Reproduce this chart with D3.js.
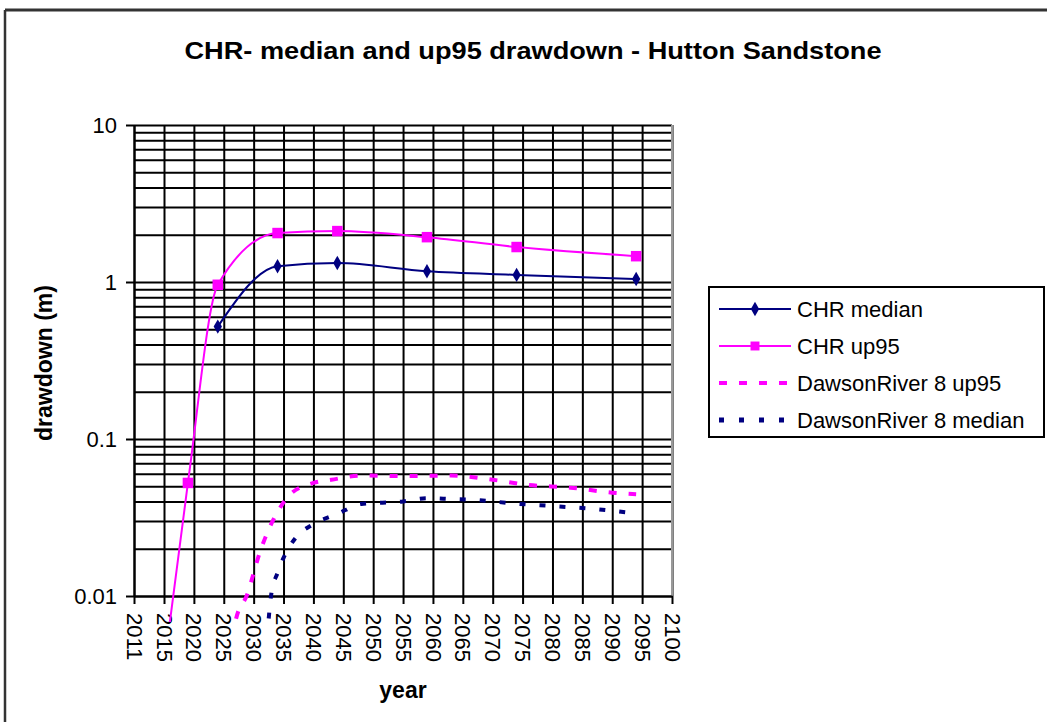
<!DOCTYPE html>
<html>
<head>
<meta charset="utf-8">
<script src="https://cdn.jsdelivr.net/npm/d3@7"></script>
<style>
  body { margin: 0; background: #fff; }
  text { font-family: Arial, "Liberation Sans", sans-serif; fill: #000; }
</style>
</head>
<body>
<svg id="chart" width="1047" height="722"></svg>
<script>
// tick labels on the year axis (evenly spaced in the original)
var yearTicks = [2011, 2015, 2020, 2025, 2030, 2035, 2040, 2045, 2050, 2055,
                 2060, 2065, 2070, 2075, 2080, 2085, 2090, 2095, 2100];
var drawdownTicks = [0.01, 0.1, 1, 10];

// CHR series
var chrMedianYears = [2024, 2034, 2044, 2059, 2074, 2094];
var chrMedian      = [0.52, 1.26, 1.32, 1.17, 1.11, 1.045];
var chrUp95Years   = [2014, 2019, 2024, 2034, 2044, 2059, 2074, 2094];
var chrUp95        = [0.0015, 0.0525, 0.96, 2.05, 2.11, 1.93, 1.67, 1.46];

// DawsonRiver 8 series
var drUp95Years = [2026, 2027, 2029, 2030, 2031, 2032, 2034, 2036, 2040, 2043, 2048, 2055, 2063, 2070, 2076, 2083, 2090, 2094];
var drUp95      = [0.004, 0.007, 0.0104, 0.014, 0.0188, 0.0238, 0.0343, 0.044, 0.0525, 0.055, 0.0585, 0.058, 0.0585, 0.055, 0.051, 0.049, 0.0455, 0.0445];
var drMedianYears = [2032, 2033, 2034, 2035, 2037, 2040, 2044, 2048, 2055, 2059, 2063, 2067, 2073, 2080, 2087, 2094];
var drMedian      = [0.004, 0.0106, 0.014, 0.0175, 0.0234, 0.0287, 0.0333, 0.0386, 0.040, 0.042, 0.0415, 0.041, 0.039, 0.0374, 0.0358, 0.0335];

var seriesNames = ["CHR median", "CHR up95", "DawsonRiver 8 up95", "DawsonRiver 8 median"];

var navy = "#000080";
var magenta = "#FF00FF";

var plotLeft = 134, plotRight = 672, plotTop = 125, plotBottom = 596;

var svg = d3.select("#chart");

// outer chart frame (only left and top edges are visible)
svg.append("line").attr("x1", 5).attr("x2", 5).attr("y1", 10).attr("y2", 722)
    .attr("stroke", "#333").attr("stroke-width", 2.5);
svg.append("line").attr("x1", 5).attr("x2", 1047).attr("y1", 10).attr("y2", 10)
    .attr("stroke", "#333").attr("stroke-width", 3);

//Title
svg.append("text")
    .attr("x", 533).attr("y", 59)
    .attr("text-anchor", "middle")
    .attr("textLength", 697).attr("lengthAdjust", "spacingAndGlyphs")
    .style("font-size", "24px").style("font-weight", "bold")
    .text("CHR- median and up95 drawdown - Hutton Sandstone");

//Scales: year axis is evenly spaced after 2015, 2011 sits one step left
var x = d3.scaleLinear()
    .domain([2011, 2015, 2100])
    .range([plotLeft, 164, plotRight]);

var y = d3.scaleLog()
    .domain([0.01, 10])
    .range([plotBottom, plotTop]);

//Grid lines
svg.append("g")
    .attr("class", "grid")
    .attr("transform", "translate(0," + plotBottom + ")")
    .call(d3.axisBottom(x).tickValues(yearTicks).tickSize(-(plotBottom - plotTop)).tickFormat(""))
    .call(g => g.select(".domain").remove())
    .call(g => g.selectAll("line").attr("stroke", "#000").attr("stroke-width", 2));

svg.append("g")
    .attr("class", "grid")
    .attr("transform", "translate(" + plotLeft + ",0)")
    .call(d3.axisLeft(y).tickValues(y.ticks()).tickSize(-(plotRight - plotLeft)).tickFormat(""))
    .call(g => g.select(".domain").remove())
    .call(g => g.selectAll("line").attr("stroke", "#000").attr("stroke-width", 2));

// plot area right edge
svg.append("line").attr("x1", plotRight).attr("x2", plotRight).attr("y1", plotTop).attr("y2", plotBottom)
    .attr("stroke", "#999").attr("stroke-width", 2);

//X axis
var xAxis = svg.append("g")
    .attr("transform", "translate(0," + plotBottom + ")")
    .call(d3.axisBottom(x).tickValues(yearTicks).tickSize(8).tickSizeOuter(0).tickFormat(d3.format("d")));
xAxis.select(".domain").attr("stroke", "#000").attr("stroke-width", 2);
xAxis.selectAll("line").attr("stroke", "#000").attr("stroke-width", 2);
xAxis.selectAll("text")
    .attr("transform", "rotate(90)")
    .attr("x", 17).attr("y", 0).attr("dy", "0.36em")
    .style("text-anchor", "start")
    .style("font-size", "22px")
    .style("font-family", "Arial, 'Liberation Sans', sans-serif");

//Y axis
var yAxis = svg.append("g")
    .attr("transform", "translate(" + plotLeft + ",0)")
    .call(d3.axisLeft(y).tickValues(drawdownTicks).tickSize(8).tickSizeOuter(0).tickFormat(d => d));
yAxis.select(".domain").attr("stroke", "#000").attr("stroke-width", 2);
yAxis.selectAll("line").attr("stroke", "#000").attr("stroke-width", 2);
yAxis.selectAll("text")
    .attr("x", -17).attr("dy", "0.35em")
    .style("font-size", "22px")
    .style("font-family", "Arial, 'Liberation Sans', sans-serif");

//Axis labels
svg.append("text")
    .attr("x", 403).attr("y", 698)
    .attr("text-anchor", "middle")
    .style("font-size", "23px").style("font-weight", "bold")
    .text("year");

svg.append("text")
    .attr("transform", "translate(52,363) rotate(-90)")
    .attr("text-anchor", "middle")
    .style("font-size", "23px").style("font-weight", "bold")
    .text("drawdown (m)");

// lines are allowed to run a little below the axis, like the original
svg.append("clipPath").attr("id", "plotClip")
    .append("rect").attr("x", plotLeft).attr("y", plotTop)
    .attr("width", plotRight - plotLeft).attr("height", 622 - plotTop);

var line = d3.line()
    .x(d => x(d[0]))
    .y(d => y(d[1]))
    .curve(d3.curveMonotoneX);

var zip = (a, b) => a.map((v, i) => [v, b[i]]);

var lines = svg.append("g").attr("clip-path", "url(#plotClip)");

lines.append("path")
    .datum(zip(drUp95Years, drUp95))
    .attr("d", line)
    .attr("fill", "none").attr("stroke", magenta).attr("stroke-width", 4)
    .attr("stroke-dasharray", "8,12");

lines.append("path")
    .datum(zip(drMedianYears, drMedian))
    .attr("d", line)
    .attr("fill", "none").attr("stroke", navy).attr("stroke-width", 4)
    .attr("stroke-dasharray", "6,14");

lines.append("path")
    .datum(zip(chrMedianYears, chrMedian))
    .attr("d", line)
    .attr("fill", "none").attr("stroke", navy).attr("stroke-width", 2);

lines.append("path")
    .datum(zip(chrUp95Years, chrUp95))
    .attr("d", line)
    .attr("fill", "none").attr("stroke", magenta).attr("stroke-width", 2);

//Markers
var diamond = d3.symbol().type(d3.symbolDiamond).size(60);
var square = d3.symbol().type(d3.symbolSquare).size(110);

svg.append("g").selectAll("path")
    .data(zip(chrMedianYears, chrMedian))
    .join("path")
    .attr("transform", d => "translate(" + x(d[0]) + "," + y(d[1]) + ")")
    .attr("d", diamond)
    .attr("fill", navy);

svg.append("g").selectAll("path")
    .data(zip(chrUp95Years, chrUp95).filter(d => d[1] >= 0.01))
    .join("path")
    .attr("transform", d => "translate(" + x(d[0]) + "," + y(d[1]) + ")")
    .attr("d", square)
    .attr("fill", magenta);

//Legend
svg.append("rect")
    .attr("x", 709).attr("y", 287).attr("width", 335).attr("height", 150)
    .attr("fill", "#fff").attr("stroke", "#000").attr("stroke-width", 2);

var legendStyle = [
    {color: navy, width: 2, dash: null, marker: diamond},
    {color: magenta, width: 2, dash: null, marker: d3.symbol().type(d3.symbolSquare).size(80)},
    {color: magenta, width: 4, dash: "8,12", marker: null},
    {color: navy, width: 5, dash: "5,15", marker: null}
];

var legend = svg.append("g")
    .selectAll("g")
    .data(seriesNames)
    .join("g")
    .attr("transform", (d, i) => "translate(0," + (309 + i * 37) + ")");

legend.append("line")
    .attr("x1", 719).attr("x2", 791).attr("y1", 0).attr("y2", 0)
    .attr("stroke", (d, i) => legendStyle[i].color)
    .attr("stroke-width", (d, i) => legendStyle[i].width)
    .attr("stroke-dasharray", (d, i) => legendStyle[i].dash);

legend.filter((d, i) => legendStyle[i].marker)
    .append("path")
    .attr("transform", "translate(755,0)")
    .attr("d", d => legendStyle[seriesNames.indexOf(d)].marker())
    .attr("fill", d => legendStyle[seriesNames.indexOf(d)].color);

legend.append("text")
    .attr("x", 797).attr("y", 8)
    .style("font-size", "22px")
    .text(d => d);
</script>
</body>
</html>
